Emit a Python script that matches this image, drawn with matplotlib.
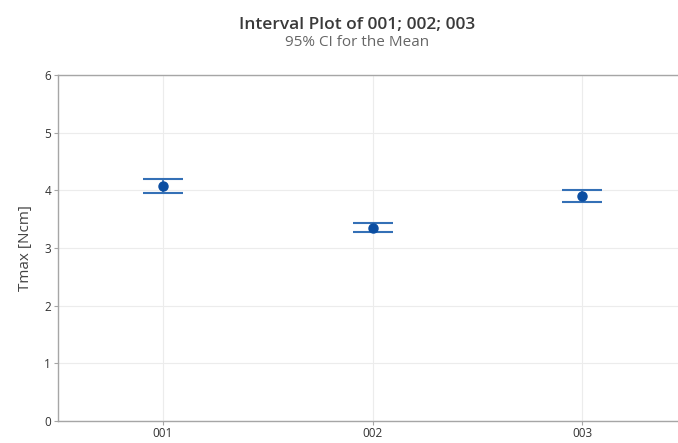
import matplotlib
matplotlib.use("Agg")
import matplotlib.pyplot as plt
import numpy as np

categories = ["001", "002", "003"]
means = [4.08, 3.35, 3.90]
ci_lower = [3.96, 3.27, 3.80]
ci_upper = [4.20, 3.43, 4.00]
y_ticks = [0, 1, 2, 3, 4, 5, 6]

plt.rcParams['font.family'] = ['Open Sans', 'DejaVu Sans']

fig = plt.figure(figsize=(6.78, 4.43), dpi=100)
ax = fig.add_axes([58/678, 22/443, 629/678, 346/443])

x = np.arange(1, len(categories) + 1)
m = np.array(means)
yerr = np.vstack([m - np.array(ci_lower), np.array(ci_upper) - m])

ax.errorbar(x, m, yerr=yerr, fmt='o', color='#0b4ea2', markersize=6.5,
            ecolor='#3470b6', elinewidth=1.2, capsize=14.4, capthick=1.5, zorder=3)

ax.set_xlim(0.5, 3.5)
ax.set_ylim(0, 6)
ax.set_xticks(x)
ax.set_xticklabels(categories)
ax.set_yticks(y_ticks)

ax.grid(True, color='#ececec', linewidth=0.8)
ax.set_axisbelow(True)
for s in ax.spines.values():
    s.set_color('#a6a6a6')
    s.set_linewidth(1.0)
ax.tick_params(axis='both', colors='#a6a6a6', length=3, width=0.8,
               labelcolor='#333333', labelsize=8.5, pad=2)
ax.tick_params(axis='x', pad=1)

ax.set_ylabel("Tmax [Ncm]", fontsize=11, color='#444444', labelpad=8)

fig.text(357/678, 1 - 25/443, "Interval Plot of 001; 002; 003", ha='center', va='center',
         fontsize=12.5, fontweight='semibold', color='#3a3a3a')
fig.text(357/678, 1 - 43/443, "95% CI for the Mean", ha='center', va='center',
         fontsize=11, color='#666666')

fig.savefig("out.png", dpi=100)
